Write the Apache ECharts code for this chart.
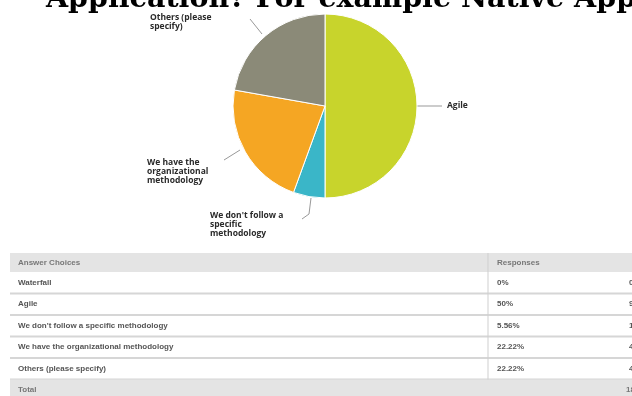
<!DOCTYPE html>
<html>
<head>
<meta charset="utf-8">
<script src="https://cdn.jsdelivr.net/npm/echarts@6/dist/echarts.min.js"></script>
<style>
  html, body { margin: 0; padding: 0; background: #fff; }
  #chart { width: 632px; height: 396px; }
</style>
</head>
<body>
<div id="chart"></div>
<script>
// Survey answers and their shares
const answers = [
  'Waterfall',
  'Agile',
  "We don't follow a specific methodology",
  'We have the organizational methodology',
  'Others (please specify)'
];
const percents = [0, 50, 5.56, 22.22, 22.22];
const percentLabels = ['0%', '50%', '5.56%', '22.22%', '22.22%'];
const counts = [0, 9, 1, 4, 4];
const totalCount = 18;
const sliceColors = ['#3f7fbf', '#c8d42c', '#3ab6c8', '#f5a623', '#8b8a78'];
// wrapped text used for the pie's outside labels
const pieLabelText = [
  'Waterfall',
  'Agile',
  "We don't follow a\nspecific\nmethodology",
  'We have the\norganizational\nmethodology',
  'Others (please\nspecify)'
];

const chart = echarts.init(document.getElementById('chart'));

// label anchor points for each slice (x, y, align)
const labelSpots = {
  1: { x: 447, y: 106, align: 'left', line: [[416, 106], [442, 106]] },
  2: { x: 210, y: 225, align: 'left', line: [[311, 198], [309, 214], [302, 219]] },
  3: { x: 147, y: 172, align: 'left', line: [[240, 150], [224, 160]] },
  4: { x: 150, y: 22, align: 'left', line: [[262, 34], [250, 19]] }
};

const pieData = answers.map((name, i) => ({
  name: name,
  value: percents[i],
  idx: i,
  itemStyle: { color: sliceColors[i] }
})).filter(d => d.value > 0);

// table built from the same arrays
const tableLeft = 10, tableRight = 700, splitX = 488;
const headerTop = 253, headerH = 19, rowH = 21.5;
const cellFont = 'bold 8px "Liberation Sans"';
const graphics = [];
graphics.push({
  type: 'rect', shape: { x: tableLeft, y: headerTop, width: tableRight - tableLeft, height: headerH },
  style: { fill: '#e4e4e4' }, silent: true
});
graphics.push({ type: 'text', x: 18, y: headerTop + headerH / 2,
  style: { text: 'Answer Choices', fill: '#777', font: cellFont, verticalAlign: 'middle' } });
graphics.push({ type: 'text', x: 497, y: headerTop + headerH / 2,
  style: { text: 'Responses', fill: '#777', font: cellFont, verticalAlign: 'middle' } });
answers.forEach((name, i) => {
  const top = headerTop + headerH + i * rowH;
  const mid = top + rowH / 2;
  graphics.push({ type: 'text', x: 18, y: mid,
    style: { text: name, fill: '#555', font: cellFont, verticalAlign: 'middle' } });
  graphics.push({ type: 'text', x: 497, y: mid,
    style: { text: percentLabels[i], fill: '#555', font: cellFont, verticalAlign: 'middle' } });
  graphics.push({ type: 'text', x: 629, y: mid,
    style: { text: String(counts[i]), fill: '#555', font: cellFont, verticalAlign: 'middle' } });
  graphics.push({ type: 'line', shape: { x1: tableLeft, y1: top + rowH, x2: tableRight, y2: top + rowH },
    style: { stroke: '#d6d6d6', lineWidth: 2 }, silent: true });
});
const totalTop = headerTop + headerH + answers.length * rowH;
graphics.push({
  type: 'rect', shape: { x: tableLeft, y: totalTop, width: tableRight - tableLeft, height: 30 },
  style: { fill: '#e4e4e4' }, silent: true
});
graphics.push({ type: 'text', x: 18, y: totalTop + 10,
  style: { text: 'Total', fill: '#777', font: cellFont, verticalAlign: 'middle' } });
graphics.push({ type: 'text', x: 626, y: totalTop + 10,
  style: { text: String(totalCount), fill: '#777', font: cellFont, verticalAlign: 'middle' } });
graphics.push({ type: 'line', shape: { x1: splitX, y1: headerTop, x2: splitX, y2: totalTop },
  style: { stroke: '#cfcfcf', lineWidth: 1 }, silent: true });

chart.setOption({
  animation: false,
  backgroundColor: '#ffffff',
  title: {
    text: 'Application? For example Native Application',
    left: 46,
    top: -15,
    padding: 0,
    textStyle: { fontFamily: 'DejaVu Serif', fontWeight: 'bold', fontSize: 28.5, color: '#000' }
  },
  graphic: graphics,
  series: [{
    type: 'pie',
    center: [325, 106],
    radius: 92,
    startAngle: 90,
    clockwise: true,
    data: pieData,
    itemStyle: { borderColor: '#ffffff', borderWidth: 1 },
    label: {
      show: true,
      position: 'outside',
      formatter: p => pieLabelText[p.data.idx],
      fontFamily: 'Open Sans',
      fontWeight: 'bold',
      fontSize: 8.5,
      lineHeight: 9,
      color: '#2a2a2a'
    },
    labelLine: { show: true, lineStyle: { color: '#999', width: 1 } },
    labelLayout: function (params) {
      const spot = labelSpots[pieData[params.dataIndex].idx];
      return {
        x: spot.x, y: spot.y, align: spot.align, verticalAlign: 'middle',
        labelLinePoints: spot.line
      };
    }
  }]
});
</script>
</body>
</html>
